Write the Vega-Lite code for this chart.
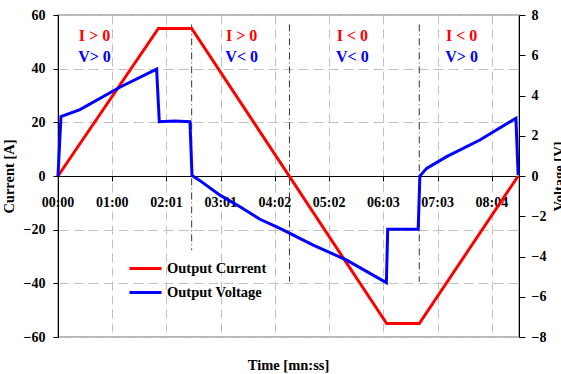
{
  "$schema": "https://vega.github.io/schema/vega-lite/v6.json",
  "width": 461,
  "height": 322,
  "autosize": {"type": "none"},
  "padding": {"left": 58, "top": 15, "right": 42, "bottom": 37},
  "background": "white",
  "title": {"text": "Time [mn:ss]", "orient": "bottom", "anchor": "middle", "fontSize": 14.5, "font": "Liberation Serif", "fontWeight": "bold", "color": "black", "offset": 15, "baseline": "top"},
  "datasets": {
    "current": [
      {"t": 0, "I": 0}, {"t": 112, "I": 55}, {"t": 149.1, "I": 55},
      {"t": 366.6, "I": -55}, {"t": 403, "I": -55}, {"t": 513.3, "I": 0}
    ],
    "voltage": [
      {"t": 0, "V": 0}, {"t": 3.3, "V": 2.95}, {"t": 24.5, "V": 3.3}, {"t": 69, "V": 4.41},
      {"t": 110, "V": 5.31}, {"t": 113, "V": 2.7}, {"t": 130, "V": 2.73}, {"t": 147.2, "V": 2.7},
      {"t": 149.5, "V": 0.03}, {"t": 158.4, "V": -0.23}, {"t": 180.7, "V": -0.95}, {"t": 203, "V": -1.53},
      {"t": 225.3, "V": -2.15}, {"t": 247.6, "V": -2.6}, {"t": 284.7, "V": -3.43}, {"t": 322, "V": -4.18},
      {"t": 366.3, "V": -5.3}, {"t": 367.8, "V": -2.64}, {"t": 401.8, "V": -2.64}, {"t": 403.7, "V": 0.0},
      {"t": 411.2, "V": 0.38}, {"t": 433.5, "V": 0.96}, {"t": 470.6, "V": 1.79}, {"t": 510.8, "V": 2.87},
      {"t": 513.3, "V": 0.05}
    ],
    "ticks": [
      {"t": 0, "lab": "00:00"}, {"t": 60.5, "lab": "01:00"}, {"t": 121, "lab": "02:01"},
      {"t": 181.5, "lab": "03:01"}, {"t": 242, "lab": "04:02"}, {"t": 302.5, "lab": "05:02"},
      {"t": 363, "lab": "06:03"}, {"t": 423.5, "lab": "07:03"}, {"t": 484, "lab": "08:04"}
    ],
    "phases": [
      {"t": 149.1, "top": 56.5, "bottom": -27.6},
      {"t": 258.2, "top": 56.5, "bottom": -39.4},
      {"t": 403, "top": 56.5, "bottom": -39.4}
    ],
    "notes": [
      {"t": 40.7, "i": "I > 0", "v": "V> 0"},
      {"t": 204.9, "i": "I > 0", "v": "V< 0"},
      {"t": 328.4, "i": "I < 0", "v": "V< 0"},
      {"t": 450.2, "i": "I < 0", "v": "V> 0"}
    ]
  },
  "layer": [
    {
      "layer": [
        {
          "data": {"name": "ticks"},
          "transform": [{"filter": "datum.t > 0"}],
          "mark": {"type": "point", "shape": "M-1,-0.35H1V0.35H-1Z", "filled": true, "color": "white", "opacity": 1, "size": 1600, "strokeWidth": 0},
          "encoding": {
            "x": {
              "field": "t", "type": "quantitative",
              "scale": {"domain": [0, 514.25], "nice": false, "zero": false},
              "axis": {
                "title": null,
                "values": [0, 60.5, 121, 181.5, 242, 302.5, 363, 423.5, 484],
                "labels": false, "offset": -161, "domainColor": "black", "domainWidth": 1,
                "tickColor": "black", "tickSize": 5, "grid": true, "gridColor": "#c0c0c0", "gridDash": [9, 5]
              }
            },
            "y": {
              "datum": -10, "type": "quantitative",
              "scale": {"domain": [-60, 60], "nice": false},
              "axis": {
                "title": "Current [A]",
                "orient": "left",
                "values": [-60, -50, -40, -30, -20, -10, 0, 10, 20, 30, 40, 50, 60],
                "labelExpr": "datum.value % 20 == 0 ? datum.label : ''",
                "tickOpacity": {"condition": {"test": "datum.value % 20 != 0", "value": 0}, "value": 1},
                "grid": true, "gridColor": "#c0c0c0", "gridDash": [10, 5],
                "domainColor": "black", "tickColor": "black", "tickSize": 5,
                "labelPadding": 8, "titlePadding": 7
              }
            }
          }
        },
        {
          "data": {"name": "ticks"},
          "mark": {"type": "text", "fontSize": 14, "baseline": "middle", "color": "black"},
          "encoding": {
            "x": {"field": "t", "type": "quantitative", "title": null},
            "y": {"datum": -10, "type": "quantitative", "title": "Current [A]"},
            "text": {"field": "lab"}
          }
        },
        {
          "data": {"name": "phases"},
          "mark": {"type": "rule", "strokeDash": [7, 3, 1, 3], "color": "#333333", "strokeWidth": 1},
          "encoding": {
            "x": {"field": "t", "type": "quantitative", "title": null},
            "y": {"field": "top", "type": "quantitative", "title": "Current [A]"},
            "y2": {"field": "bottom"}
          }
        },
        {
          "data": {"name": "current"},
          "mark": {"type": "line", "strokeWidth": 3},
          "encoding": {
            "x": {"field": "t", "type": "quantitative", "title": null},
            "y": {"field": "I", "type": "quantitative", "title": "Current [A]"},
            "color": {
              "datum": "Output Current", "type": "nominal",
              "scale": {"domain": ["Output Current", "Output Voltage"], "range": ["#ff0000", "#0000ff"]},
              "legend": {
                "orient": "none", "legendX": 70, "legendY": 236, "title": null,
                "symbolType": "stroke", "symbolSize": 1024, "symbolStrokeWidth": 3,
                "labelFont": "Liberation Serif", "labelFontWeight": "bold", "labelFontSize": 14.5,
                "labelColor": "black", "labelOffset": 4, "rowPadding": -10, "padding": 0
              }
            }
          }
        },
        {
          "data": {"name": "notes"},
          "mark": {"type": "text", "color": "#ff0000", "fontSize": 16, "baseline": "middle"},
          "encoding": {
            "x": {"field": "t", "type": "quantitative", "title": null},
            "y": {"datum": 52.3, "type": "quantitative", "title": "Current [A]"},
            "text": {"field": "i"}
          }
        },
        {
          "data": {"name": "notes"},
          "mark": {"type": "text", "color": "#0000ff", "fontSize": 16, "baseline": "middle"},
          "encoding": {
            "x": {"field": "t", "type": "quantitative", "title": null},
            "y": {"datum": 44.5, "type": "quantitative", "title": "Current [A]"},
            "text": {"field": "v"}
          }
        }
      ]
    },
    {
      "data": {"name": "voltage"},
      "mark": {"type": "line", "strokeWidth": 3},
      "encoding": {
        "x": {"field": "t", "type": "quantitative", "title": null},
        "y": {
          "field": "V", "type": "quantitative",
          "scale": {"domain": [-8, 8], "nice": false},
          "axis": {
            "title": "Voltage [V]",
            "orient": "right", "values": [-8, -6, -4, -2, 0, 2, 4, 6, 8], "grid": false,
            "domainColor": "black", "tickColor": "black", "tickSize": 6, "labelPadding": 6,
            "titleAngle": -90, "titleBaseline": "top", "titlePadding": 7
          }
        },
        "color": {"datum": "Output Voltage", "type": "nominal"}
      }
    }
  ],
  "resolve": {"scale": {"y": "independent"}},
  "config": {
    "view": {"stroke": "#a0a0a0", "strokeWidth": 1.5},
    "axis": {
      "labelFont": "Liberation Serif", "labelFontWeight": "bold", "labelFontSize": 14, "labelColor": "black",
      "titleFont": "Liberation Serif", "titleFontWeight": "bold", "titleFontSize": 14.5, "titleColor": "black"
    },
    "text": {"font": "Liberation Serif", "fontWeight": "bold"}
  }
}
